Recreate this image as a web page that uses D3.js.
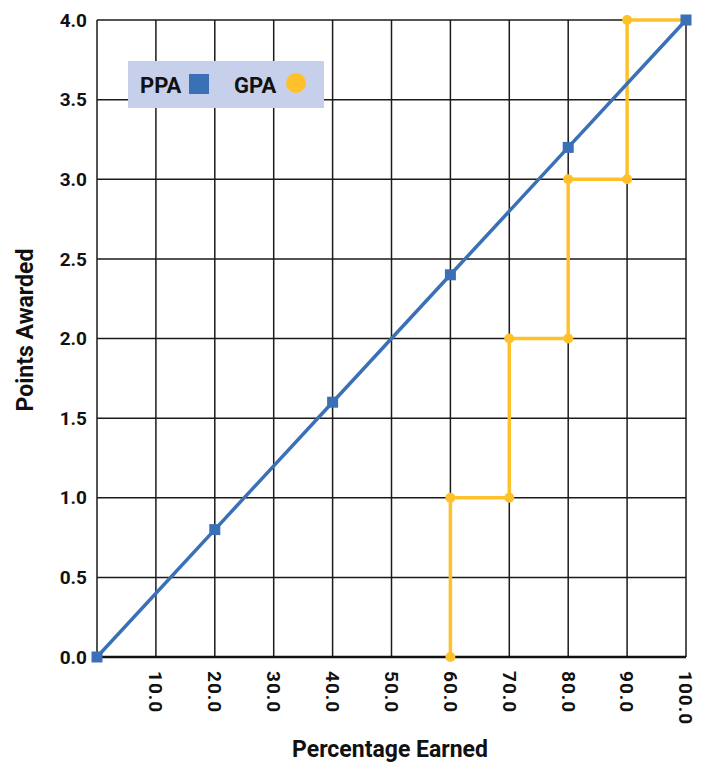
<!DOCTYPE html>
<html>
<head>
<meta charset="utf-8">
<script src="https://cdn.jsdelivr.net/npm/d3@7"></script>
<style>
  body { margin: 0; background: #fff; }
  svg text { font-family: Roboto, "Liberation Sans", sans-serif; fill: #111; }
</style>
</head>
<body>
<div id="chart"></div>
<script>
// PPA: linear points
const ppaX = [0, 20, 40, 60, 80, 100];
const ppaY = [0, 0.8, 1.6, 2.4, 3.2, 4.0];
// GPA: step line
const gpaX = [60, 60, 70, 70, 80, 80, 90, 90, 100];
const gpaY = [0, 1, 1, 2, 2, 3, 3, 4, 4];
const xTicks = [0, 10, 20, 30, 40, 50, 60, 70, 80, 90, 100];
const yTicks = [0, 0.5, 1, 1.5, 2, 2.5, 3, 3.5, 4];

const W = 704, H = 762;
const margin = { top: 20, right: 18, bottom: 105, left: 97 };
const width = W - margin.left - margin.right;
const height = H - margin.top - margin.bottom;

const svg = d3.select("#chart").append("svg")
    .attr("width", W)
    .attr("height", H);
const g = svg.append("g")
    .attr("transform", "translate(" + margin.left + "," + margin.top + ")");

const x = d3.scaleLinear().domain([0, 100]).range([0, width]);
const y = d3.scaleLinear().domain([0, 4]).range([height, 0]);

// grid
g.selectAll(".vgrid").data(xTicks).enter().append("line")
    .attr("x1", d => x(d)).attr("x2", d => x(d))
    .attr("y1", 0).attr("y2", height)
    .attr("stroke", "#1a1a1a").attr("stroke-width", 1.5);
g.selectAll(".hgrid").data(yTicks).enter().append("line")
    .attr("x1", 0).attr("x2", width)
    .attr("y1", d => y(d)).attr("y2", d => y(d))
    .attr("stroke", "#1a1a1a").attr("stroke-width", 1.5);
// bottom axis line thicker
g.append("line").attr("x1", 0).attr("x2", width)
    .attr("y1", height).attr("y2", height)
    .attr("stroke", "#111").attr("stroke-width", 2.5);

// y tick labels
g.selectAll(".ylab").data(yTicks).enter().append("text")
    .attr("x", -10).attr("y", d => y(d))
    .attr("dy", "0.35em")
    .attr("text-anchor", "end")
    .attr("font-size", 19).attr("font-weight", "bold")
    .text(d => d.toFixed(1));

// x tick labels (rotated)
g.selectAll(".xlab").data(xTicks.filter(d => d > 0)).enter().append("text")
    .attr("transform", d => "translate(" + x(d) + "," + (height + 14) + ") rotate(90)")
    .attr("dy", "0.35em")
    .attr("text-anchor", "start")
    .attr("font-size", 19).attr("font-weight", "bold")
    .attr("letter-spacing", 1)
    .text(d => d.toFixed(1));

// axis titles
svg.append("text")
    .attr("x", 390).attr("y", 757)
    .attr("text-anchor", "middle")
    .attr("font-size", 23).attr("font-weight", "bold")
    .text("Percentage Earned");
svg.append("text")
    .attr("transform", "translate(33,330) rotate(-90)")
    .attr("text-anchor", "middle")
    .attr("font-size", 23).attr("font-weight", "bold")
    .text("Points Awarded");

// lines
const line = d3.line().x(d => x(d[0])).y(d => y(d[1]));
const ppa = ppaX.map((d, i) => [d, ppaY[i]]);
const gpa = gpaX.map((d, i) => [d, gpaY[i]]);

g.append("path").datum(gpa)
    .attr("d", line).attr("fill", "none")
    .attr("stroke", "#ffc12a").attr("stroke-width", 3.5);
g.selectAll(".gdot").data(gpa).enter().append("circle")
    .attr("cx", d => x(d[0])).attr("cy", d => y(d[1]))
    .attr("r", 5).attr("fill", "#ffc12a");

g.append("path").datum(ppa)
    .attr("d", line).attr("fill", "none")
    .attr("stroke", "#3a70b6").attr("stroke-width", 3.5);
g.selectAll(".pdot").data(ppa).enter().append("rect")
    .attr("x", d => x(d[0]) - 5.5).attr("y", d => y(d[1]) - 5.5)
    .attr("width", 11).attr("height", 11).attr("fill", "#3a70b6");

// legend
const leg = svg.append("g").attr("transform", "translate(128,61)");
leg.append("rect").attr("width", 196).attr("height", 47).attr("fill", "#c7d0ea");
leg.append("text").attr("x", 12).attr("y", 32)
    .attr("font-size", 22).attr("font-weight", "bold").text("PPA");
leg.append("rect").attr("x", 61).attr("y", 13).attr("width", 20).attr("height", 20).attr("fill", "#3a70b6");
leg.append("text").attr("x", 106).attr("y", 32)
    .attr("font-size", 22).attr("font-weight", "bold").text("GPA");
leg.append("circle").attr("cx", 168).attr("cy", 22).attr("r", 10).attr("fill", "#ffc12a");
</script>
</body>
</html>
